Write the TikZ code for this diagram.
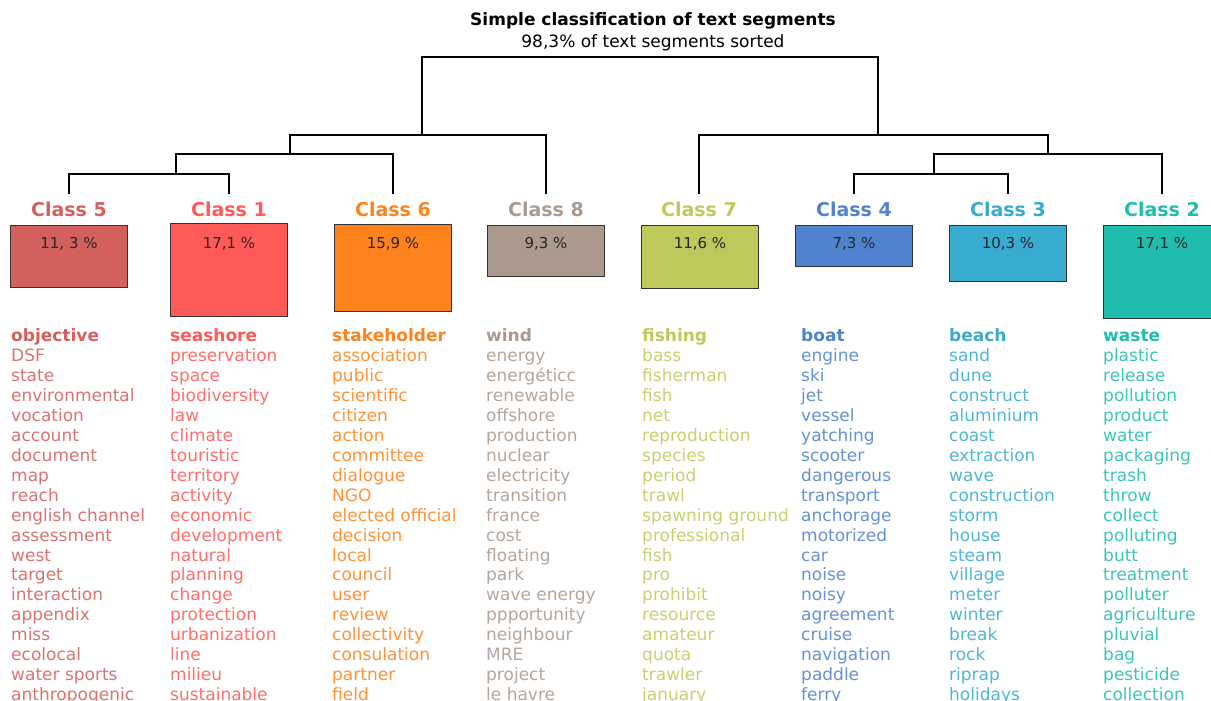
\documentclass[tikz,border=0pt]{standalone}
\usepackage{fontspec}
\setmainfont{DejaVu Sans}
\definecolor{cA}{HTML}{D4605E}
\definecolor{cB}{HTML}{FF5A57}
\definecolor{cC}{HTML}{FF831C}
\definecolor{cD}{HTML}{AB998D}
\definecolor{cE}{HTML}{BFC95B}
\definecolor{cF}{HTML}{5083CF}
\definecolor{cG}{HTML}{38ABD1}
\definecolor{cH}{HTML}{20BDAE}
\begin{document}
\begin{tikzpicture}[x=1pt,y=-1pt,
  tree/.style={line width=2.5pt, draw=black},
  pbox/.style={draw=black!80, line width=1.3pt, anchor=north, inner sep=0pt, minimum width=117pt},
  pct/.style={font=\fontsize{15}{18}\selectfont, text=black!85},
  clab/.style={font=\fontsize{19}{22}\selectfont\bfseries},
  words/.style={anchor=north west, inner sep=0pt, align=left, font=\fontsize{17}{19.94}\selectfont}]
\useasboundingbox (0,0) rectangle (1211,701);
\clip (0,0) rectangle (1211,701);

% title
\node[font=\fontsize{17}{20}\selectfont\bfseries] (title) at (653,21) {Simple classification of text segments};
\node[font=\fontsize{17}{20}\selectfont] (sub) at (653,43) {98,3\% of text segments sorted};

% dendrogram coordinates
\coordinate (l5) at (69,194);
\coordinate (l1) at (229,194);
\coordinate (l6) at (393,194);
\coordinate (l8) at (546,194);
\coordinate (l7) at (699,194);
\coordinate (l4) at (854,194);
\coordinate (l3) at (1008,194);
\coordinate (l2) at (1162,194);
\coordinate (j4) at (176,174);
\coordinate (j3) at (290,154);
\coordinate (j2) at (422,135);
\coordinate (root) at (650,57);
\coordinate (k2) at (878,135);
\coordinate (k3) at (1048,154);
\coordinate (k4) at (934,174);

\draw[tree] (l5) |- (j4) -| (l1);
\draw[tree] (j4) |- (j3) -| (l6);
\draw[tree] (j3) |- (j2) -| (l8);
\draw[tree] (j2) |- (root) -| (k2);
\draw[tree] (l7) |- (k2) -| (k3);
\draw[tree] (k4) |- (k3) -| (l2);
\draw[tree] (l4) |- (k4) -| (l3);

% class labels
\node[clab, text=cA] (n5) at (69,209) {Class 5};
\node[clab, text=cB] (n1) at (229,209) {Class 1};
\node[clab, text=cC] (n6) at (393,209) {Class 6};
\node[clab, text=cD] (n8) at (546,209) {Class 8};
\node[clab, text=cE] (n7) at (699,209) {Class 7};
\node[clab, text=cF] (n4) at (854,209) {Class 4};
\node[clab, text=cG] (n3) at (1008,209) {Class 3};
\node[clab, text=cH] (n2) at (1162,209) {Class 2};

% boxes
\node[pbox, fill=cA, minimum height=62pt] (b5) at (69,225) {};
\node[pbox, fill=cB, minimum height=93pt] (b1) at (229,223) {};
\node[pbox, fill=cC, minimum height=87pt] (b6) at (393,224) {};
\node[pbox, fill=cD, minimum height=51pt] (b8) at (546,225) {};
\node[pbox, fill=cE, minimum height=63pt] (b7) at (700,225) {};
\node[pbox, fill=cF, minimum height=41pt] (b4) at (854,225) {};
\node[pbox, fill=cG, minimum height=56pt] (b3) at (1008,225) {};
\node[pbox, fill=cH, minimum height=93pt] (b2) at (1162,225) {};

\node[pct] (p5) at (69,244) {11, 3 \%};
\node[pct] (p1) at (229,244) {17,1 \%};
\node[pct] (p6) at (393,244) {15,9 \%};
\node[pct] (p8) at (546,244) {9,3 \%};
\node[pct] (p7) at (700,244) {11,6 \%};
\node[pct] (p4) at (854,244) {7,3 \%};
\node[pct] (p3) at (1008,244) {10,3 \%};
\node[pct] (p2) at (1162,244) {17,1 \%};

% word lists
\node[words, text=cA!88!white] (w5) at (11,328.5) {\rule{0pt}{13pt}{\bfseries\color{cA}objective}\\DSF\\state\\environmental\\vocation\\account\\document\\map\\reach\\english channel\\assessment\\west\\target\\interaction\\appendix\\miss\\ecolocal\\water sports\\anthropogenic};
\node[words, text=cB!88!white] (w1) at (170,328.5) {\rule{0pt}{13pt}{\bfseries\color{cB}seashore}\\preservation\\space\\biodiversity\\law\\climate\\touristic\\territory\\activity\\economic\\development\\natural\\planning\\change\\protection\\urbanization\\line\\milieu\\sustainable};
\node[words, text=cC!88!white] (w6) at (332,328.5) {\rule{0pt}{13pt}{\bfseries\color{cC}stakeholder}\\association\\public\\scientific\\citizen\\action\\committee\\dialogue\\NGO\\elected official\\decision\\local\\council\\user\\review\\collectivity\\consulation\\partner\\field};
\node[words, text=cD!88!white] (w8) at (486,328.5) {\rule{0pt}{13pt}{\bfseries\color{cD}wind}\\energy\\energéticc\\renewable\\offshore\\production\\nuclear\\electricity\\transition\\france\\cost\\floating\\park\\wave energy\\ppportunity\\neighbour\\MRE\\project\\le havre};
\node[words, text=cE!88!white] (w7) at (642,328.5) {\rule{0pt}{13pt}{\bfseries\color{cE}fishing}\\bass\\fisherman\\fish\\net\\reproduction\\species\\period\\trawl\\spawning ground\\professional\\fish\\pro\\prohibit\\resource\\amateur\\quota\\trawler\\january};
\node[words, text=cF!88!white] (w4) at (801,328.5) {\rule{0pt}{13pt}{\bfseries\color{cF}boat}\\engine\\ski\\jet\\vessel\\yatching\\scooter\\dangerous\\transport\\anchorage\\motorized\\car\\noise\\noisy\\agreement\\cruise\\navigation\\paddle\\ferry};
\node[words, text=cG!88!white] (w3) at (949,328.5) {\rule{0pt}{13pt}{\bfseries\color{cG}beach}\\sand\\dune\\construct\\aluminium\\coast\\extraction\\wave\\construction\\storm\\house\\steam\\village\\meter\\winter\\break\\rock\\riprap\\holidays};
\node[words, text=cH!88!white] (w2) at (1103,328.5) {\rule{0pt}{13pt}{\bfseries\color{cH}waste}\\plastic\\release\\pollution\\product\\water\\packaging\\trash\\throw\\collect\\polluting\\butt\\treatment\\polluter\\agriculture\\pluvial\\bag\\pesticide\\collection};
\end{tikzpicture}
\end{document}
